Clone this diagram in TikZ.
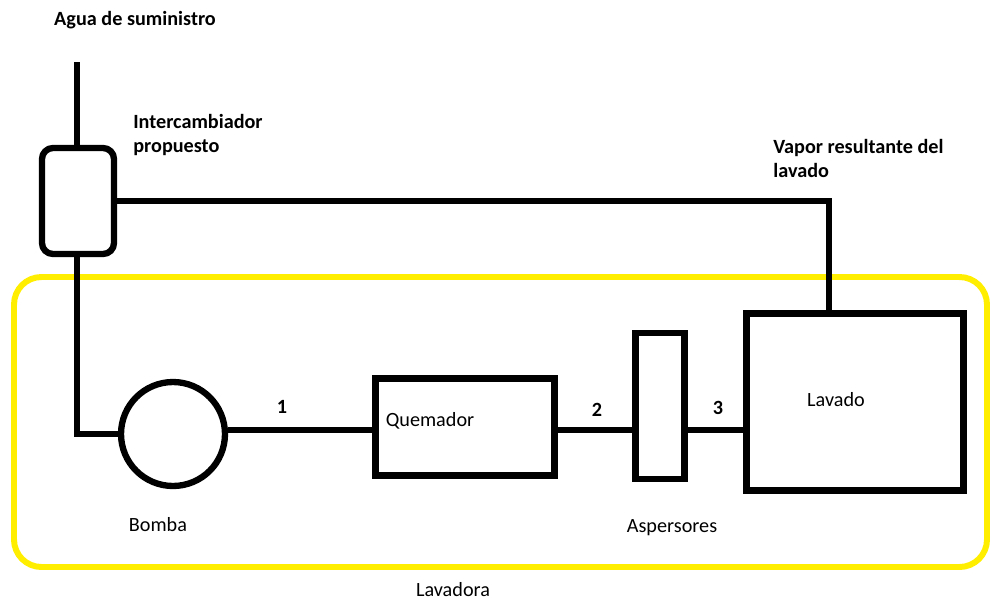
\documentclass[tikz,border=0pt]{standalone}
\usepackage{fontspec}
\setmainfont{Carlito}
\usetikzlibrary{positioning}
\definecolor{marker}{RGB}{255,238,0}

\begin{document}
\begin{tikzpicture}[x=0.02cm, y=-0.02cm,
    pipe/.style={line width=3.6pt},
    unit/.style={draw, line width=3.6pt, inner sep=0pt},
    lbl/.style={font=\fontsize{11.5}{13.6}\selectfont, inner sep=0pt},
    tag/.style={font=\fontsize{11.5}{13.6}\selectfont\bfseries, inner sep=0pt, align=left}]
    \useasboundingbox (0, 0) rectangle (990, 602);

    % contorno de la lavadora
    \draw[marker, line width=3.4pt, rounded corners=0.55cm] (14, 277) rectangle (987, 567);

    % equipos
    \node[unit, rounded corners=0.22cm, minimum width=1.44cm, minimum height=2.12cm] (exch) at (78, 201) {};
    \node[unit, circle, minimum size=2.08cm] (bomba) at (173, 434) {};
    \node[unit, minimum width=3.58cm, minimum height=1.94cm] (quem) at (465, 427) {};
    \node[unit, minimum width=0.98cm, minimum height=2.92cm] (asp) at (660, 406) {};
    \node[unit, minimum width=4.34cm, minimum height=3.54cm] (lav) at (855, 402) {};

    \coordinate (sup) at (77, 62);
    \coordinate (vtop) at (829, 201);

    % tuberias
    \draw[pipe] (sup) -- (sup |- exch.north);
    \draw[pipe] (exch.south -| sup) -- (sup |- bomba.west) -- (bomba.west);
    \draw[pipe] (bomba.east |- 0, 430) -- (quem.west |- 0, 430);
    \draw[pipe] (quem.east |- 0, 430) -- (asp.west |- 0, 430);
    \draw[pipe] (asp.east |- 0, 430) -- (lav.west |- 0, 430);
    \draw[pipe] (exch.east |- vtop) -- (vtop) -- (vtop |- lav.north);

    % textos
    \node[tag] (agua) at (135, 20) {Agua de suministro};
    \node[tag, anchor=north west] (intc) at (133, 114) {Intercambiador\\propuesto};
    \node[tag, anchor=north west] (vapor) at (773, 139) {Vapor resultante del\\lavado};
    \node[tag] (n1) at (282, 407) {1};
    \node[tag] (n2) at (597, 410) {2};
    \node[tag] (n3) at (718, 408) {3};
    \node[lbl] (tquem) at (430, 421) {Quemador};
    \node[lbl] (tlav) at (836, 400) {Lavado};
    \node[lbl] (tbomba) at (158, 525) {Bomba};
    \node[lbl] (tasp) at (672, 528) {Aspersores};
    \node[lbl] (tlavd) at (453, 590) {Lavadora};
\end{tikzpicture}
\end{document}
